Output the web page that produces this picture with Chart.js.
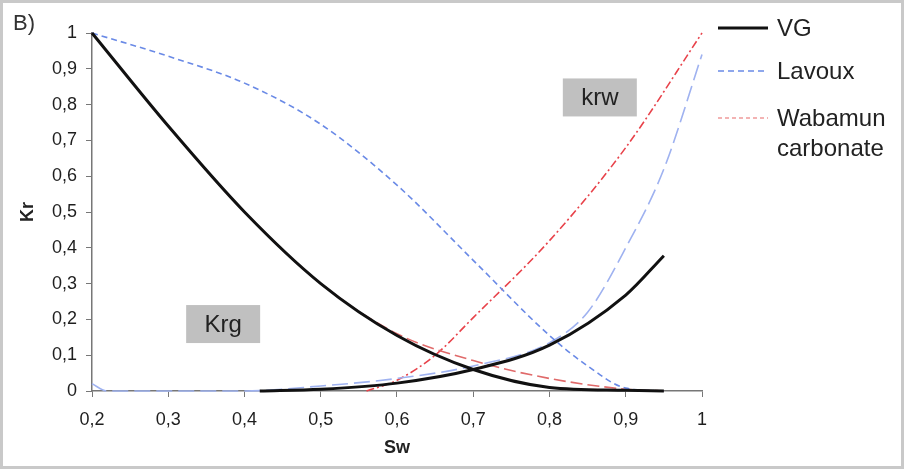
<!DOCTYPE html>
<html>
<head>
<meta charset="utf-8">
<script src="https://cdn.jsdelivr.net/npm/chart.js@4.4.1/dist/chart.umd.min.js"></script>
<style>
html, body { margin: 0; padding: 0; background: #fff; }
#wrap { width: 904px; height: 469px; }
</style>
</head>
<body>
<div id="wrap"><canvas id="krChart" width="904" height="469"></canvas></div>
<script>
// valores (Sw -> Kr)
const swVG = [0.2, 0.3, 0.4, 0.5, 0.6, 0.7, 0.8, 0.9, 0.95];
const vgKrg = [1, 0.74, 0.5, 0.3, 0.155, 0.06, 0.01, 0.002, 0];
const swVGKrw = [0.42, 0.5, 0.6, 0.7, 0.8, 0.9, 0.95];
const vgKrw = [0, 0.005, 0.022, 0.06, 0.128, 0.268, 0.378];

const swLavKrg = [0.2, 0.3, 0.4, 0.5, 0.6, 0.7, 0.8, 0.85, 0.9, 0.95];
const lavKrg = [1, 0.935, 0.86, 0.745, 0.575, 0.365, 0.155, 0.07, 0.008, 0];
const swLavKrw = [0.2, 0.22, 0.3, 0.4, 0.5, 0.6, 0.7, 0.8, 0.85, 0.9, 0.95, 1];
const lavKrw = [0.02, 0, 0, 0, 0.014, 0.035, 0.07, 0.135, 0.22, 0.4, 0.62, 0.94];

const swWabKrg = [0.2, 0.3, 0.4, 0.5, 0.6, 0.7, 0.8, 0.9, 0.95];
const wabKrg = [1, 0.74, 0.5, 0.3, 0.16, 0.085, 0.035, 0.005, 0];
const swWabKrw = [0.56, 0.6, 0.65, 0.7, 0.8, 0.9, 1];
const wabKrw = [0, 0.03, 0.1, 0.205, 0.42, 0.68, 1];

const legendLabels = [['VG'], ['Lavoux'], ['Wabamun', 'carbonate']];
const boxLabels = [{ text: 'krw', sw: 0.866, kr: 0.82 }, { text: 'Krg', sw: 0.372, kr: 0.187 }];

const FONT = '"Liberation Sans", Arial, sans-serif';

function pts(xs, ys) {
    return xs.map((x, i) => ({ x: x, y: ys[i] }));
}
function fmt(v) {
    return String(Math.round(v * 10) / 10).replace('.', ',');
}

const estilos = {
    vg: { color: '#111111', width: 3, dash: [] },
    lav: { color: '#6a8ae6', width: 1.6, dash: [6, 4] },
    lavW: { color: '#9fb2f0', width: 1.6, dash: [16, 6] },
    wab: { color: '#e06a6a', width: 1.6, dash: [12, 5] },
    wabW: { color: '#e8424a', width: 1.6, dash: [8, 3, 2, 3] },
    wabLeg: { color: '#ef9a9a', width: 1.6, dash: [4, 3] }
};

function ds(label, data, st) {
    return {
        label: label,
        data: data,
        borderColor: st.color,
        borderWidth: st.width,
        borderDash: st.dash,
        pointRadius: 0,
        fill: false,
        cubicInterpolationMode: 'monotone',
        clip: 4
    };
}

const overlay = {
    id: 'overlay',
    afterDraw(chart) {
        const ctx = chart.ctx;
        const sx = chart.scales.x, sy = chart.scales.y;
        ctx.save();
        // moldura
        ctx.strokeStyle = '#c9c9c9';
        ctx.lineWidth = 3;
        ctx.strokeRect(1.5, 1.5, 901, 466);

        ctx.fillStyle = '#333';
        ctx.font = '22px ' + FONT;
        ctx.textBaseline = 'alphabetic';
        ctx.fillText('B)', 13, 30);

        // caixas krw / Krg
        ctx.font = '24px ' + FONT;
        ctx.textAlign = 'center';
        ctx.textBaseline = 'middle';
        boxLabels.forEach(b => {
            const cx = sx.getPixelForValue(b.sw), cy = sy.getPixelForValue(b.kr);
            ctx.fillStyle = '#c0c0c0';
            ctx.fillRect(cx - 37, cy - 19, 74, 38);
            ctx.fillStyle = '#222';
            ctx.fillText(b.text, cx, cy + 1);
        });

        // legenda
        const leg = [estilos.vg, estilos.lav, estilos.wabLeg];
        const ys = [28, 71, 118];
        ctx.textAlign = 'left';
        legendLabels.forEach((lines, i) => {
            const st = leg[i];
            ctx.strokeStyle = st.color;
            ctx.lineWidth = st.width;
            ctx.setLineDash(st.dash);
            ctx.beginPath();
            ctx.moveTo(718, ys[i]);
            ctx.lineTo(768, ys[i]);
            ctx.stroke();
            ctx.setLineDash([]);
            ctx.fillStyle = '#222';
            lines.forEach((t, j) => ctx.fillText(t, 777, ys[i] + 1 + j * 30));
        });
        ctx.restore();
    }
};

new Chart(document.getElementById('krChart').getContext('2d'), {
    type: 'line',
    data: {
        // o primeiro dataset fica por cima
        datasets: [
            ds('VG krg', pts(swVG, vgKrg), estilos.vg),
            ds('VG krw', pts(swVGKrw, vgKrw), estilos.vg),
            ds('Lavoux krg', pts(swLavKrg, lavKrg), estilos.lav),
            ds('Lavoux krw', pts(swLavKrw, lavKrw), estilos.lavW),
            ds('Wabamun krg', pts(swWabKrg, wabKrg), estilos.wab),
            ds('Wabamun krw', pts(swWabKrw, wabKrw), estilos.wabW)
        ]
    },
    options: {
        responsive: false,
        animation: false,
        layout: { padding: { top: 33, right: 202, left: 0, bottom: 0 } },
        plugins: { legend: { display: false }, tooltip: { enabled: false } },
        scales: {
            x: {
                type: 'linear',
                min: 0.2,
                max: 1,
                afterFit: s => { s.height = 78; },
                ticks: { stepSize: 0.1, callback: fmt, color: '#1e1e1e', padding: 12, font: { family: FONT, size: 18 } },
                grid: { drawOnChartArea: false, color: '#777', tickLength: 6 },
                border: { color: '#777', width: 1.5 },
                title: { display: true, text: 'Sw', color: '#222', font: { family: FONT, size: 18, weight: 'bold' }, padding: { top: 0, bottom: 10 } }
            },
            y: {
                min: 0,
                max: 1,
                afterFit: s => { s.width = 92; },
                ticks: { stepSize: 0.1, callback: fmt, color: '#1e1e1e', padding: 9, font: { family: FONT, size: 18 } },
                grid: { drawOnChartArea: false, color: '#777', tickLength: 6 },
                border: { color: '#777', width: 1.5 },
                title: { display: true, text: 'Kr', color: '#222', font: { family: FONT, size: 18, weight: 'bold' }, padding: { top: 17, bottom: 0 } }
            }
        }
    },
    plugins: [overlay]
});
</script>
</body>
</html>
